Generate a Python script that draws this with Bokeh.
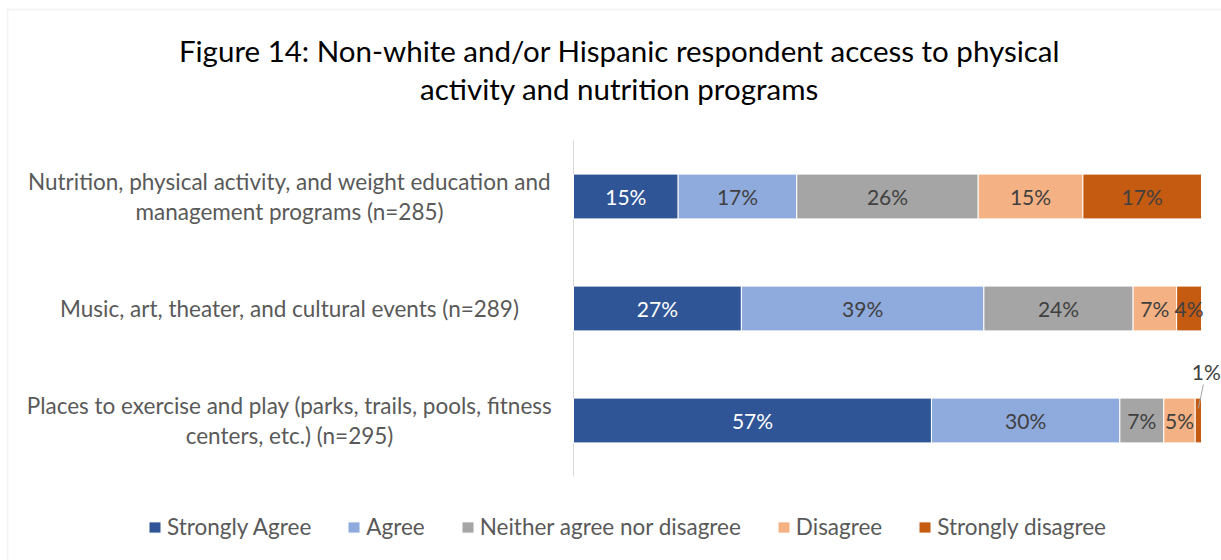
from bokeh.plotting import figure
from bokeh.models import ColumnDataSource, Label, LabelSet, Legend, LegendItem, Range1d, BoxAnnotation
from bokeh.embed import file_html
from bokeh.resources import INLINE
from bokeh.core.properties import value

# ---------------- data ----------------
title_lines = [
    "Figure 14: Non-white and/or Hispanic respondent access to physical",
    "activity and nutrition programs",
]
categories = [  # bottom to top
    "Places to exercise and play (parks, trails, pools, fitness\ncenters, etc.) (n=295)",
    "Music, art, theater, and cultural events (n=289)",
    "Nutrition, physical activity, and weight education and\nmanagement programs (n=285)",
]
responses = ["Strongly Agree", "Agree", "Neither agree nor disagree", "Disagree", "Strongly disagree"]
strongly_agree = [57, 27, 15]
agree = [30, 39, 17]
neither = [7, 24, 26]
disagree = [5, 7, 15]
strongly_disagree = [1, 4, 17]
series = [strongly_agree, agree, neither, disagree, strongly_disagree]

colors = ["#2F5597", "#8FAADC", "#A5A5A5", "#F4B183", "#C55A11"]
label_colors = ["#FFFFFF", "#404040", "#404040", "#404040", "#404040"]

# ---------------- layout (pixels) ----------------
FONT = "Lato"
W, H = 1221, 560
BAR_LEFT_PX, BAR_WIDTH_PX = 573, 628      # where 0% .. 100% sit
ROW0_PX, ROW_STEP_PX = 420, 112           # page-y of bottom row centre, spacing

x_start = -BAR_LEFT_PX / BAR_WIDTH_PX
x_end = (W - BAR_LEFT_PX) / BAR_WIDTH_PX
y_start = -(H - ROW0_PX) / ROW_STEP_PX
y_end = ROW0_PX / ROW_STEP_PX

p = figure(width=W, height=H, title=None, toolbar_location=None, output_backend="svg",
           x_range=Range1d(x_start, x_end), y_range=Range1d(y_start, y_end),
           min_border=0, min_border_left=0, min_border_right=0,
           min_border_top=0, min_border_bottom=0)
p.xaxis.visible = False
p.yaxis.visible = False
p.xgrid.visible = False
p.ygrid.visible = False
p.outline_line_color = None

# chart border (top/left visible in reference)
p.add_layout(BoxAnnotation(left=7, right=W + 20, top=H - 9, bottom=-20,
                           left_units="screen", right_units="screen",
                           top_units="screen", bottom_units="screen",
                           fill_color=None, line_color="#D9D9D9", line_width=2))

# vertical category axis line
n_rows = len(categories)
p.segment(x0=[0], y0=[-0.5], x1=[0], y1=[n_rows - 0.5], line_color="#D9D9D9", line_width=1)

ys = list(range(n_rows))
totals = [sum(s[i] for s in series) for i in ys]
lefts = [0.0] * n_rows

renderers = []
lab_x, lab_y, lab_t, lab_c = [], [], [], []
call_x, call_y, call_t = [], [], []
for k, (name, vals) in enumerate(zip(responses, series)):
    shares = [v / t for v, t in zip(vals, totals)]
    rights = [l + s for l, s in zip(lefts, shares)]
    src = ColumnDataSource(dict(y=ys, left=lefts, right=rights))
    r = p.hbar(y="y", left="left", right="right", height=0.4, source=src,
               fill_color=colors[k], line_color="#FFFFFF", line_width=1)
    renderers.append(r)
    for i in ys:
        mid = (lefts[i] + rights[i]) / 2
        if shares[i] < 0.02:
            call_x.append(mid); call_y.append(i); call_t.append(f"{vals[i]}%")
        else:
            lab_x.append(mid); lab_y.append(i); lab_t.append(f"{vals[i]}%"); lab_c.append(label_colors[k])
    lefts = rights

lab_src = ColumnDataSource(dict(x=lab_x, y=lab_y, text=lab_t, color=lab_c))
p.add_layout(LabelSet(x="x", y="y", text="text", source=lab_src, text_color="color",
                      text_align="center", text_baseline="middle",
                      text_font=value(FONT), text_font_size="21px"))

# callout for tiny segment
call_src = ColumnDataSource(dict(x=call_x, y=call_y, text=call_t))
p.add_layout(LabelSet(x="x", y="y", text="text", source=call_src, text_color="#404040",
                      x_offset=8, y_offset=49, text_align="center", text_baseline="middle",
                      text_font=value(FONT), text_font_size="21px"))
seg_src = ColumnDataSource(dict(
    x0=list(call_x), y0=[y + 12 / ROW_STEP_PX for y in call_y],
    x1=[x + 5 / BAR_WIDTH_PX for x in call_x], y1=[y + 36 / ROW_STEP_PX for y in call_y]))
p.segment(x0="x0", y0="y0", x1="x1", y1="y1", source=seg_src, line_color="#A6A6A6", line_width=1)

# category labels (centered lines, block right edge near axis)
for i, cat in enumerate(categories):
    lines = cat.split("\n")
    n = len(lines)
    for j, line in enumerate(lines):
        off = ((n - 1) / 2 - j) * 30
        p.add_layout(Label(x=0, y=i, x_offset=-284, y_offset=off, text=line,
                           text_align="center", text_baseline="middle",
                           text_font=FONT, text_font_size="22.5px", text_color="#595959"))

# title
for j, line in enumerate(title_lines):
    p.add_layout(Label(x=619, y=H - 50 - 38 * j, x_units="screen", y_units="screen", text=line,
                       text_align="center", text_baseline="middle",
                       text_font=FONT, text_font_size="29.5px", text_color="#000000"))

legend = Legend(items=[LegendItem(label=n, renderers=[r]) for n, r in zip(responses, renderers)],
                orientation="horizontal", location=(147, 20),
                glyph_width=15, glyph_height=14, label_standoff=5, spacing=35,
                padding=0, margin=0, border_line_color=None, background_fill_alpha=0,
                label_text_font=FONT, label_text_font_size="22.5px", label_text_color="#595959")
p.add_layout(legend)

open("out.html", "w").write(file_html(p, INLINE))
